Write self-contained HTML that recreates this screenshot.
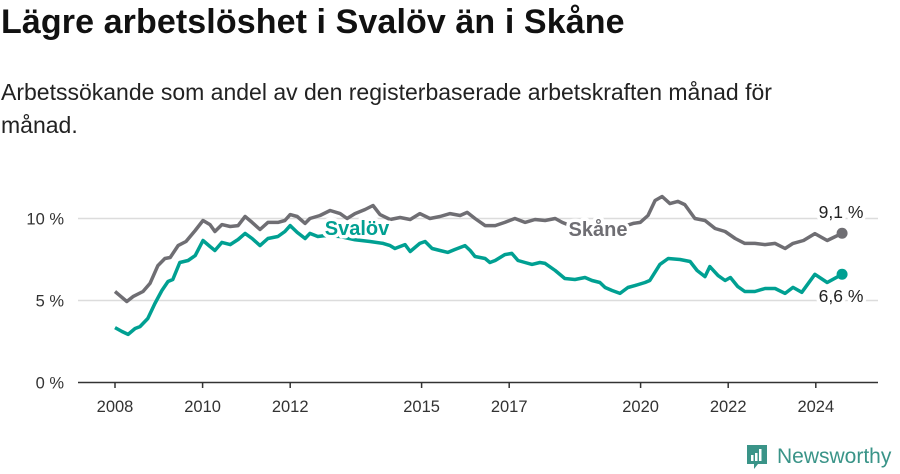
<!DOCTYPE html>
<html><head><meta charset="utf-8"><style>
body{margin:0;width:900px;height:474px;background:#fff;overflow:hidden;font-family:"Liberation Sans","DejaVu Sans",sans-serif;color:#111;position:relative}
h1{position:absolute;left:1px;top:3px;margin:0;font-size:34px;font-weight:bold;letter-spacing:0.1px}
.sub{position:absolute;left:1px;top:76px;margin:0;font-size:23px;line-height:33px;color:#222;width:850px}
svg{position:absolute;left:0;top:0}
</style></head><body>
<h1>Lägre arbetslöshet i Svalöv än i Skåne</h1>
<p class="sub">Arbetssökande som andel av den registerbaserade arbetskraften månad för månad.</p>
<svg id="chart" width="900" height="474"></svg>
<script>
const yTicks=[0,5,10];
const yTickLabels=["0 %","5 %","10 %"];
const xTicks=[2008,2010,2012,2015,2017,2020,2022,2024];
const skaneYears=[2008.00,2008.11,2008.27,2008.41,2008.64,2008.80,2008.98,2009.14,2009.26,2009.44,2009.62,2009.83,2010.01,2010.17,2010.28,2010.44,2010.63,2010.81,2010.97,2011.13,2011.31,2011.49,2011.72,2011.88,2012.00,2012.16,2012.34,2012.45,2012.68,2012.91,2013.14,2013.30,2013.48,2013.71,2013.89,2014.05,2014.28,2014.51,2014.74,2014.96,2015.19,2015.42,2015.65,2015.88,2016.04,2016.22,2016.45,2016.68,2016.90,2017.13,2017.36,2017.59,2017.82,2018.05,2018.21,2018.50,2018.84,2019.19,2019.53,2019.83,2019.99,2020.17,2020.33,2020.49,2020.67,2020.85,2021.01,2021.24,2021.47,2021.70,2021.93,2022.16,2022.38,2022.61,2022.84,2023.07,2023.30,2023.48,2023.72,2023.98,2024.26,2024.60];
const skaneValues=[5.55,5.30,4.94,5.24,5.55,6.04,7.13,7.56,7.62,8.35,8.60,9.27,9.88,9.63,9.21,9.63,9.51,9.57,10.12,9.76,9.33,9.76,9.76,9.88,10.24,10.12,9.70,10.00,10.18,10.49,10.30,10.00,10.30,10.55,10.79,10.24,9.94,10.06,9.94,10.30,10.00,10.12,10.30,10.18,10.37,10.00,9.57,9.57,9.76,10.00,9.76,9.94,9.88,10.00,9.76,9.45,9.39,9.33,9.45,9.70,9.76,10.18,11.10,11.34,10.91,11.04,10.85,10.00,9.88,9.39,9.21,8.78,8.48,8.48,8.41,8.48,8.17,8.48,8.66,9.08,8.66,9.1];
const svalovYears=[2008.00,2008.16,2008.30,2008.46,2008.57,2008.75,2008.91,2009.07,2009.21,2009.32,2009.48,2009.67,2009.83,2010.01,2010.17,2010.28,2010.44,2010.63,2010.81,2010.97,2011.13,2011.31,2011.49,2011.72,2011.88,2012.00,2012.16,2012.34,2012.45,2012.63,2012.79,2013.14,2013.48,2013.82,2014.12,2014.28,2014.39,2014.62,2014.74,2014.96,2015.08,2015.24,2015.42,2015.60,2015.76,2015.99,2016.11,2016.22,2016.45,2016.56,2016.68,2016.90,2017.06,2017.20,2017.36,2017.52,2017.70,2017.82,2018.05,2018.27,2018.50,2018.73,2018.89,2019.07,2019.19,2019.35,2019.53,2019.71,2019.87,2020.10,2020.21,2020.44,2020.63,2020.90,2021.13,2021.29,2021.47,2021.58,2021.77,2021.93,2022.05,2022.22,2022.38,2022.61,2022.84,2023.07,2023.30,2023.48,2023.68,2023.98,2024.26,2024.60];
const svalovValues=[3.35,3.11,2.93,3.29,3.41,3.90,4.82,5.61,6.16,6.28,7.32,7.44,7.74,8.66,8.29,8.05,8.54,8.41,8.72,9.09,8.78,8.35,8.78,8.90,9.21,9.57,9.15,8.78,9.09,8.90,8.96,8.9,8.7,8.6,8.48,8.35,8.17,8.41,7.99,8.48,8.60,8.17,8.05,7.93,8.11,8.35,8.05,7.68,7.56,7.32,7.44,7.80,7.87,7.44,7.32,7.20,7.32,7.26,6.83,6.34,6.28,6.40,6.22,6.10,5.79,5.61,5.43,5.79,5.91,6.10,6.22,7.20,7.56,7.50,7.38,6.83,6.46,7.07,6.52,6.22,6.40,5.85,5.55,5.55,5.73,5.73,5.43,5.80,5.50,6.60,6.10,6.6];
const NS="http://www.w3.org/2000/svg";
const svg=document.getElementById('chart');
const xS=y=>115+(y-2008)*43.8;
const yS=v=>382.5-v*16.4;
function mk(t,a,p){const e=document.createElementNS(NS,t);for(const k in a)e.setAttribute(k,a[k]);(p||svg).appendChild(e);return e;}
yTicks.forEach((v,i)=>{
  if(v>0){const g=mk('line',{x1:78,x2:878,y1:yS(v),y2:yS(v),stroke:'#dcdcdc','stroke-width':1.5});
  
  }
  const t=mk('text',{x:64,y:yS(v)+6,'text-anchor':'end','font-size':16.5,fill:'#333'});
  t.textContent=yTickLabels[i];
  
  
});
const ax=mk('line',{x1:78,x2:878,y1:382.5,y2:382.5,stroke:'#333','stroke-width':1.5});


xTicks.forEach(y=>{
  mk('line',{x1:xS(y),x2:xS(y),y1:382,y2:388,stroke:'#333','stroke-width':1.5});
  const t=mk('text',{x:xS(y),y:412,'text-anchor':'middle','font-size':16.5,fill:'#333'});
  t.textContent=y;
  
  
});
function line(xs,vs,col,name){
  const d=xs.map((x,i)=>(i?'L':'M')+xS(x).toFixed(1)+','+yS(vs[i]).toFixed(1)).join('');
  const p=mk('path',{d:d,fill:'none',stroke:col,'stroke-width':3.5,'stroke-linejoin':'round'});
  
  
  const n=xs.length-1;
  const c=mk('circle',{cx:xS(xs[n]),cy:yS(vs[n]),r:5.5,fill:col});
  
  
}
line(skaneYears,skaneValues,'#6f6e73','skane');
line(svalovYears,svalovValues,'#00a092','svalov');
function lab(x,y,txt,col,name,anchor,size,bold,halo){
  const t=mk('text',{x:x,y:y,'text-anchor':anchor,'font-size':size,'font-weight':bold?'bold':'normal',fill:col});
  if(halo){t.setAttribute('stroke','#fff');t.setAttribute('stroke-width',7);t.setAttribute('paint-order','stroke');t.setAttribute('stroke-linejoin','round');}
  t.textContent=txt;
  
  
}
lab(357,235,'Svalöv','#00a092','svalov-label','middle',20,true,true);
lab(598,236,'Skåne','#6f6e73','skane-label','middle',20,true,true);
lab(841,218,'9,1 %','#222','skane-value-label','middle',17.5,false,true);
lab(841,302,'6,6 %','#222','svalov-value-label','middle',17.5,false,true);
</script>
<div style="position:absolute;left:745px;top:443px;display:flex;align-items:center;color:#3a9488;font-size:21px;font-family:'Liberation Sans',sans-serif">
<svg width="24" height="28" style="position:static;margin-right:8px"><path d="M2 2h20v19h-9l-4 5v-5H2z" fill="#3a9488"/><rect x="6" y="12" width="2.5" height="6" fill="#fff"/><rect x="10" y="10" width="2.5" height="8" fill="#fff"/><rect x="14" y="6" width="2.5" height="12" fill="#fff"/></svg>Newsworthy</div>
</body></html>
